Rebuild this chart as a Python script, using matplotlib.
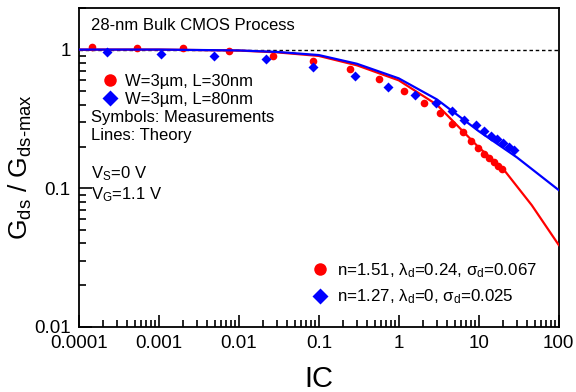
import matplotlib
matplotlib.use('Agg')
import matplotlib.pyplot as plt
from matplotlib.lines import Line2D
from matplotlib.ticker import LogLocator, FuncFormatter, NullFormatter

plt.rcParams['font.family'] = ['Liberation Sans', 'DejaVu Sans']
plt.rcParams['mathtext.fontset'] = 'custom'
plt.rcParams['mathtext.rm'] = 'Liberation Sans'
plt.rcParams['mathtext.it'] = 'Liberation Sans:italic'

# measured Gds/Gds-max, W=3um L=30nm
ic_l30 = [1.45e-4, 5.3e-4, 2.0e-3, 7.5e-3, 0.0266, 0.084, 0.244, 0.56, 1.15,
          2.05, 3.25, 4.6, 6.3, 7.94, 9.7, 11.5, 13.3, 15.4, 17.3, 19.4]
gds_l30 = [1.05, 1.03, 1.02, 0.97, 0.905, 0.83, 0.72, 0.61, 0.50,
           0.41, 0.35, 0.29, 0.253, 0.218, 0.194, 0.176, 0.164, 0.154, 0.144, 0.137]

# measured Gds/Gds-max, W=3um L=80nm
ic_l80 = [2.24e-4, 1.06e-3, 4.87e-3, 0.0218, 0.084, 0.28, 0.73, 1.58, 2.9,
          4.6, 6.5, 9.2, 11.5, 14.1, 16.8, 20.0, 23.7, 27.4]
gds_l80 = [0.967, 0.936, 0.905, 0.85, 0.75, 0.65, 0.54, 0.467, 0.41,
           0.358, 0.313, 0.284, 0.257, 0.240, 0.225, 0.211, 0.197, 0.188]

# model curves
ic_th_l30 = [1e-4, 1e-3, 1e-2, 0.03, 0.1, 0.3, 1, 3, 10, 20, 46, 100]
gds_th_l30 = [1.0, 1.0, 0.984, 0.955, 0.9, 0.77, 0.6, 0.40, 0.197, 0.139, 0.0755, 0.039]
ic_th_l80 = [1e-4, 1e-3, 1e-2, 0.03, 0.1, 0.3, 1, 3, 10, 30, 100]
gds_th_l80 = [1.0, 1.0, 0.986, 0.962, 0.913, 0.79, 0.62, 0.437, 0.258, 0.167, 0.097]

fig = plt.figure(figsize=(5.76, 3.92), dpi=100)
ax = fig.add_axes([0.137, 0.166, 0.833, 0.814])

ax.axhline(1.0, color='black', lw=1.0, ls=(0, (2.5, 2)), zorder=1)
ax.plot(ic_th_l30, gds_th_l30, color='red', lw=1.6, zorder=3)
ax.plot(ic_th_l80, gds_th_l80, color='blue', lw=1.6, zorder=3)
ax.plot(ic_l30, gds_l30, 'o', color='red', ms=5.5, mec='none', zorder=2)
ax.plot(ic_l80, gds_l80, 'D', color='blue', ms=5.5, mec='none', zorder=4)

ax.set_xscale('log')
ax.set_yscale('log')
ax.set_xlim(1e-4, 100)
ax.set_ylim(0.01, 2)

fmt = FuncFormatter(lambda v, p: '%g' % v)
ax.xaxis.set_major_locator(LogLocator(base=10, numticks=10))
ax.xaxis.set_minor_locator(LogLocator(base=10, subs=range(2, 10), numticks=20))
ax.yaxis.set_major_locator(LogLocator(base=10, numticks=10))
ax.yaxis.set_minor_locator(LogLocator(base=10, subs=range(2, 10), numticks=20))
ax.xaxis.set_major_formatter(fmt)
ax.yaxis.set_major_formatter(fmt)
ax.xaxis.set_minor_formatter(NullFormatter())
ax.yaxis.set_minor_formatter(NullFormatter())
ax.tick_params(which='both', direction='in', top=False, right=False,
               labelsize=13.5, width=1.2)
ax.tick_params(which='major', length=9, pad=6)
ax.tick_params(which='minor', length=5)
for s in ax.spines.values():
    s.set_linewidth(1.3)

ax.set_xlabel('IC', fontsize=21, labelpad=9)
ax.set_ylabel(r'G$_\mathrm{ds}$ / G$_\mathrm{ds\text{-}max}$', fontsize=19)
ax.yaxis.set_label_coords(-0.094, 0.5)

ax.text(0.025, 0.944, '28-nm Bulk CMOS Process', transform=ax.transAxes,
        fontsize=12, va='center')

h1 = [Line2D([], [], ls='none', marker='o', color='red', ms=9, mec='none'),
      Line2D([], [], ls='none', marker='D', color='blue', ms=8, mec='none')]
leg1 = ax.legend(h1, ['W=3µm, L=30nm', 'W=3µm, L=80nm'], loc='upper left',
                 bbox_to_anchor=(0.047, 0.792), frameon=False, fontsize=12,
                 handlelength=1.0, handletextpad=0.4, labelspacing=0.16,
                 borderaxespad=0, borderpad=0)
ax.add_artist(leg1)

ax.text(0.025, 0.657, 'Symbols: Measurements', transform=ax.transAxes, fontsize=12, va='center')
ax.text(0.025, 0.600, 'Lines: Theory', transform=ax.transAxes, fontsize=12, va='center')
ax.text(0.025, 0.480, r'V$_\mathrm{S}$=0 V', transform=ax.transAxes, fontsize=12, va='center')
ax.text(0.025, 0.415, r'V$_\mathrm{G}$=1.1 V', transform=ax.transAxes, fontsize=12, va='center')

h2 = [Line2D([], [], ls='none', marker='o', color='red', ms=9, mec='none'),
      Line2D([], [], ls='none', marker='D', color='blue', ms=8, mec='none')]
ax.legend(h2, [r'n=1.51, λ$_\mathrm{d}$=0.24, σ$_\mathrm{d}$=0.067',
               r'n=1.27, λ$_\mathrm{d}$=0, σ$_\mathrm{d}$=0.025'],
          loc='upper left', bbox_to_anchor=(0.484, 0.206), frameon=False, fontsize=12.2,
          handlelength=1.0, handletextpad=0.5, labelspacing=0.45,
          borderaxespad=0, borderpad=0)

fig.savefig('out.png', dpi=100)
